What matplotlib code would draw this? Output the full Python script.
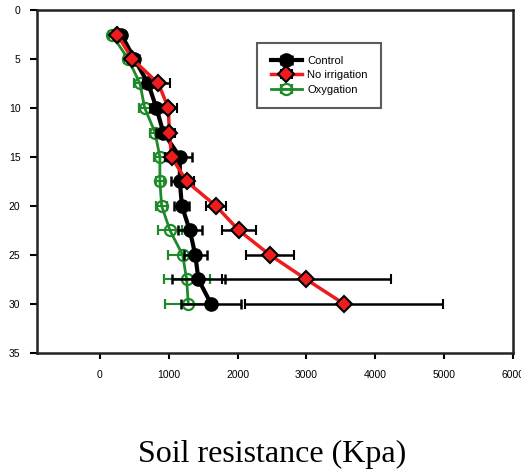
import matplotlib
matplotlib.use("Agg")
import matplotlib.pyplot as plt

depth = [2.5, 5, 7.5, 10, 12.5, 15, 17.5, 20, 22.5, 25, 27.5, 30]

control = [310, 500, 700, 820, 920, 1160, 1160, 1190, 1305, 1385, 1430, 1615]
control_err = [60, 60, 80, 90, 100, 180, 130, 110, 170, 170, 380, 435]

no_irrigation = [250, 470, 848, 993, 1007, 1040, 1260, 1685, 2020, 2470, 3000, 3547]
no_irrigation_err = [50, 60, 170, 130, 90, 100, 110, 150, 245, 350, 1225, 1440]

oxygation = [170, 410, 580, 650, 800, 870, 870, 896, 1017, 1201, 1259, 1283]
oxygation_err = [40, 60, 90, 80, 80, 80, 60, 75, 170, 210, 335, 340]

x_ticks = [0, 1000, 2000, 3000, 4000, 5000, 6000]
y_ticks = [0, 5, 10, 15, 20, 25, 30, 35]

plt.rcParams['font.family'] = ['Liberation Sans', 'DejaVu Sans']

fig = plt.figure(figsize=(5.21, 4.72), dpi=100)
ax = fig.add_axes([37/521, 1-353/472, (513-37)/521, (353-10)/472])

ax.errorbar(oxygation, depth, xerr=oxygation_err, color='#1f8a2a', ecolor='#1f8a2a',
            lw=2, elinewidth=1.5, capsize=3.5, capthick=1.5, marker='o', ms=8,
            mfc='none', mec='#1f8a2a', mew=1.6, zorder=3, label='Oxygation')
ax.errorbar(control, depth, xerr=control_err, color='black', ecolor='black',
            lw=3, elinewidth=1.8, capsize=3.5, capthick=1.8, marker='o', ms=9.5,
            mfc='black', mec='black', zorder=4, label='Control')
ax.errorbar(no_irrigation, depth, xerr=no_irrigation_err, color='#ee1c1c', ecolor='black',
            lw=2.5, elinewidth=1.8, capsize=3.5, capthick=1.8, marker='D', ms=8,
            mfc='#ee1c1c', mec='black', mew=1.5, zorder=5, label='No irrigation')

ax.set_xlim(-915, 6000)
ax.set_ylim(35, 0)
ax.set_xticks(x_ticks)
ax.set_yticks(y_ticks)
ax.tick_params(axis='x', direction='out', length=4, width=1.5, pad=8, labelsize=7.5, colors='black')
ax.tick_params(axis='y', direction='out', length=5, width=1.5, pad=7, labelsize=7.5)
for s in ax.spines.values():
    s.set_linewidth(1.8)
    s.set_color('#222222')

h, l = ax.get_legend_handles_labels()
order = [1, 2, 0]
leg = ax.legend([h[i] for i in order], [l[i] for i in order],
                loc='upper left', bbox_to_anchor=(0.463, 0.905), fontsize=8,
                frameon=True, fancybox=False, edgecolor='#333333', handlelength=2.8,
                borderpad=1.2, labelspacing=0.4, handletextpad=0.5, borderaxespad=0)
leg.get_frame().set_linewidth(1.5)

fig.text(272/521, 1-454/472, 'Soil resistance (Kpa)', ha='center', va='center',
         fontsize=23, family='Liberation Serif')

fig.savefig('out.png', dpi=100)
